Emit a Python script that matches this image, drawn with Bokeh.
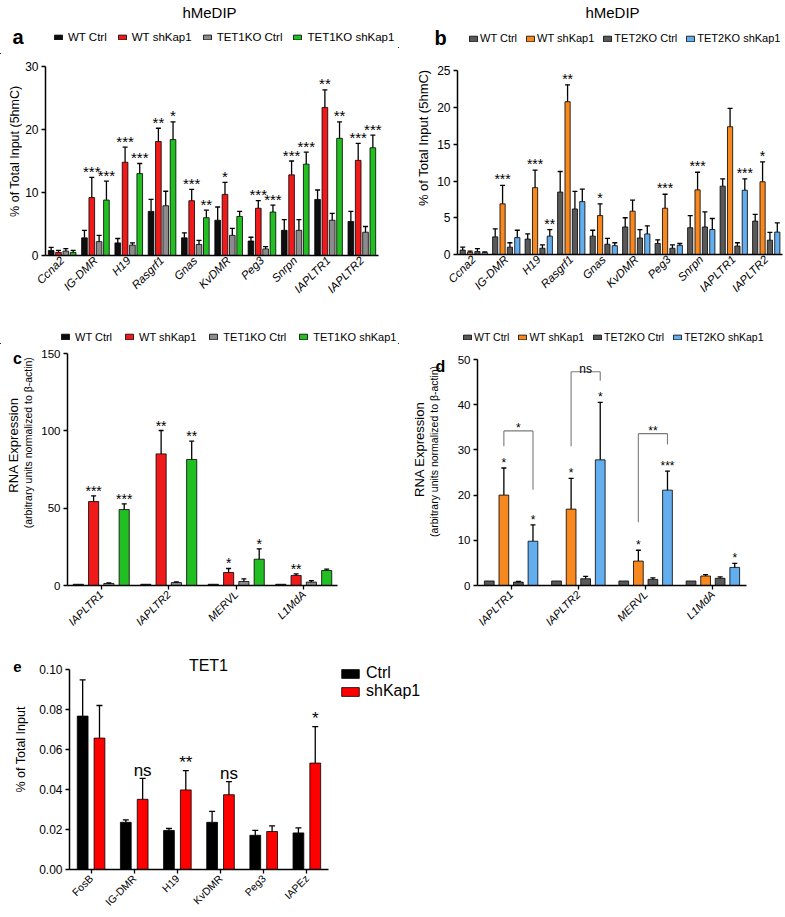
import numpy as np
from math import pi
from bokeh.plotting import figure
from bokeh.models import (Label, Legend, LegendItem, FixedTicker, Range1d,
                          NumeralTickFormatter)
from bokeh.layouts import column, row
from bokeh.embed import file_html
from bokeh.resources import INLINE
from bokeh.core.properties import value

FONT = "Liberation Sans"

# ---------------- panel a : hMeDIP, TET1KO ----------------
a_genes = ["Ccna2", "IG-DMR", "H19", "Rasgrf1", "Gnas", "KvDMR", "Peg3", "Snrpn", "IAPLTR1", "IAPLTR2"]
a_series = ["WT Ctrl", "WT shKap1", "TET1KO Ctrl", "TET1KO shKap1"]
a_wt_ctrl = [0.8, 2.8, 2.0, 7.0, 2.8, 5.6, 2.3, 4.0, 8.9, 5.4]
a_wt_ctrl_err = [0.5, 1.2, 0.7, 1.9, 0.8, 2.1, 0.6, 1.7, 1.5, 1.6]
a_wt_sh = [0.5, 9.2, 14.8, 18.1, 8.7, 9.7, 7.5, 12.8, 23.5, 15.1]
a_wt_sh_err = [0.3, 3.2, 2.4, 2.1, 1.8, 1.9, 1.2, 2.2, 2.8, 2.7]
a_ko_ctrl = [0.7, 2.2, 1.65, 7.9, 1.75, 3.2, 1.05, 4.0, 5.6, 3.7]
a_ko_ctrl_err = [0.4, 1.0, 0.35, 2.3, 0.65, 1.1, 0.35, 1.7, 1.1, 0.9]
a_ko_sh = [0.5, 8.8, 13.0, 18.4, 6.0, 6.2, 6.9, 14.5, 18.6, 17.1]
a_ko_sh_err = [0.3, 3.0, 1.6, 2.8, 1.2, 0.8, 1.1, 1.9, 2.6, 2.0]
a_sig_wt_sh = ["", "***", "***", "**", "***", "*", "***", "***", "**", "***"]
a_sig_ko_sh = ["", "***", "***", "*", "**", "", "***", "***", "**", "***"]
a_yticks = [0, 10, 20, 30]

# ---------------- panel b : hMeDIP, TET2KO ----------------
b_genes = ["Ccna2", "IG-DMR", "H19", "Rasgrf1", "Gnas", "KvDMR", "Peg3", "Snrpn", "IAPLTR1", "IAPLTR2"]
b_series = ["WT Ctrl", "WT shKap1", "TET2KO Ctrl", "TET2KO shKap1"]
b_wt_ctrl = [0.6, 2.4, 2.1, 8.5, 2.5, 3.75, 1.5, 3.65, 9.3, 4.55]
b_wt_ctrl_err = [0.4, 1.1, 0.7, 2.8, 0.8, 1.25, 0.5, 1.65, 1.0, 0.9]
b_wt_sh = [0.3, 6.9, 9.1, 20.8, 5.3, 5.9, 6.3, 8.8, 17.4, 9.9]
b_wt_sh_err = [0.15, 2.5, 2.4, 2.3, 1.6, 1.5, 1.9, 2.4, 2.5, 2.7]
b_ko_ctrl = [0.4, 1.0, 0.85, 6.2, 1.4, 2.25, 0.85, 3.75, 1.15, 1.95]
b_ko_ctrl_err = [0.4, 0.6, 0.45, 2.4, 0.8, 1.15, 0.45, 2.05, 0.45, 1.05]
b_ko_sh = [0.25, 2.3, 2.5, 7.2, 1.2, 2.8, 1.25, 3.4, 8.75, 3.05]
b_ko_sh_err = [0.1, 1.0, 0.9, 1.7, 0.4, 1.1, 0.25, 1.5, 1.55, 1.25]
b_sig_wt_sh = ["", "***", "***", "**", "*", "", "***", "***", "", "*"]
b_sig_ko_sh = ["", "", "**", "", "", "", "", "", "***", ""]
b_yticks = [0, 5, 10, 15, 20, 25]

# ---------------- panel c : RNA, TET1KO ----------------
c_genes = ["IAPLTR1", "IAPLTR2", "MERVL", "L1MdA"]
c_series = ["WT Ctrl", "WT shKap1", "TET1KO Ctrl", "TET1KO shKap1"]
c_wt_ctrl = [0.8, 0.8, 0.8, 0.8]
c_wt_ctrl_err = [0, 0, 0, 0]
c_wt_sh = [54.3, 85.1, 8.4, 6.5]
c_wt_sh_err = [3.7, 15.1, 2.6, 1.0]
c_ko_ctrl = [1.3, 1.9, 2.6, 2.2]
c_ko_ctrl_err = [0.4, 0.5, 1.7, 1.0]
c_ko_sh = [49.1, 81.5, 17.0, 9.7]
c_ko_sh_err = [3.7, 11.8, 6.7, 0.9]
c_sig_wt_sh = ["***", "**", "*", "**"]
c_sig_ko_sh = ["***", "**", "*", ""]
c_yticks = [0, 50, 100, 150]

# ---------------- panel d : RNA, TET2KO ----------------
d_genes = ["IAPLTR1", "IAPLTR2", "MERVL", "L1MdA"]
d_series = ["WT Ctrl", "WT shKap1", "TET2KO Ctrl", "TET2KO shKap1"]
d_wt_ctrl = [1.0, 1.0, 1.0, 1.0]
d_wt_ctrl_err = [0, 0, 0, 0]
d_wt_sh = [20.0, 16.9, 5.4, 2.1]
d_wt_sh_err = [6.0, 6.8, 2.4, 0.3]
d_ko_ctrl = [0.75, 1.5, 1.35, 1.6]
d_ko_ctrl_err = [0.15, 0.5, 0.35, 0.3]
d_ko_sh = [9.8, 27.8, 21.1, 4.0]
d_ko_sh_err = [3.6, 12.7, 4.2, 0.9]
d_sig_wt_sh = ["*", "*", "*", ""]
d_sig_ko_sh = ["*", "*", "***", "*"]
d_yticks = [0, 10, 20, 30, 40, 50]
d_br_cat = [0, 1, 2]
d_br_top = [34.2, 47.3, 33.6]
d_br_left_end = [30.8, 30.8, 14.0]
d_br_right_end = [21.2, 45.3, 31.2]
d_br_text = ["*", "ns", "**"]

# ---------------- panel e : TET1 ChIP ----------------
e_genes = ["FosB", "IG-DMR", "H19", "KvDMR", "Peg3", "IAPEz"]
e_series = ["Ctrl", "shKap1"]
e_ctrl = [0.0767, 0.0236, 0.0195, 0.0236, 0.0171, 0.0183]
e_ctrl_err = [0.0181, 0.0012, 0.0010, 0.0055, 0.0025, 0.0025]
e_sh = [0.0657, 0.0351, 0.0398, 0.0374, 0.0190, 0.0532]
e_sh_err = [0.0163, 0.0105, 0.0096, 0.0065, 0.0028, 0.0182]
e_sig = ["", "ns", "**", "ns", "", "*"]
e_yticks = [0.0, 0.02, 0.04, 0.06, 0.08, 0.10]

RED, GREEN, BLACK, GREY = "#F01A1A", "#22BF22", "#0E0E0E", "#8C8C8C"
DGREY, ORANGE, BLUE = "#595959", "#F7871F", "#62AEEE"


def blank(w, h):
    """Frameless canvas used for panel titles, letters, legends and y labels."""
    p = figure(width=w, height=h, output_backend="svg", toolbar_location=None,
               x_range=Range1d(0, w), y_range=Range1d(0, h),
               x_axis_location=None, y_axis_location=None, min_border=0)
    p.grid.visible = False
    p.outline_line_color = None
    return p


def txt(p, x, y, s, fs, angle=0.0, fstyle="normal"):
    p.text(x=[x], y=[y], text=[s], angle=angle, text_align="center",
           text_baseline="middle", text_font=value(FONT), text_font_size=value(fs),
           text_font_style=value(fstyle), text_color="black")


def chart(w, h, bl, br, bt, bb, xr, yr):
    p = figure(width=w, height=h, output_backend="svg", toolbar_location=None,
               x_range=Range1d(*xr), y_range=Range1d(*yr),
               min_border_left=bl, min_border_right=br, min_border_top=bt,
               min_border_bottom=bb)
    p.grid.visible = False
    p.outline_line_color = None
    return p


def style(p, labels, xfs, yticks, yfs, xticks=True, italic=True, fmt=None,
          ybounds=None, xbounds=None):
    xa = p.xaxis[0]
    ya = p.yaxis[0]
    xa.ticker = FixedTicker(ticks=list(range(len(labels))))
    xa.major_label_overrides = {i: s for i, s in enumerate(labels)}
    xa.major_label_orientation = pi / 4
    xa.major_label_text_font = FONT
    xa.major_label_text_font_size = xfs
    xa.major_label_text_font_style = "italic" if italic else "normal"
    xa.major_label_text_color = "black"
    xa.major_label_standoff = 3
    xa.axis_line_width = 1.5
    xa.axis_line_color = "black"
    xa.minor_tick_line_color = None
    xa.major_tick_in = 0
    if xticks:
        xa.major_tick_out = 4
        xa.major_tick_line_width = 1.3
        xa.major_tick_line_color = "black"
    else:
        xa.major_tick_out = 0
        xa.major_tick_line_color = None
    if xbounds:
        xa.bounds = xbounds
    ya.ticker = FixedTicker(ticks=yticks)
    if fmt:
        ya.formatter = NumeralTickFormatter(format=fmt)
    ya.major_label_text_font = FONT
    ya.major_label_text_font_size = yfs
    ya.major_label_text_color = "black"
    ya.major_label_standoff = 3
    ya.major_tick_in = 0
    ya.major_tick_out = 4
    ya.major_tick_line_width = 1.3
    ya.minor_tick_line_color = None
    ya.axis_line_width = 1.5
    ya.axis_line_color = "black"
    if ybounds:
        ya.bounds = ybounds


def bars(p, vals, errs, colors, offs, width, cap):
    rs = []
    for v, e, c, o in zip(vals, errs, colors, offs):
        v = np.asarray(v, float)
        e = np.asarray(e, float)
        x = np.arange(len(v)) + o
        r = p.vbar(x=x, top=v, bottom=0, width=width, fill_color=c,
                   line_color="black", line_width=0.8)
        m = e > 0
        p.segment(x0=x[m], y0=v[m], x1=x[m], y1=(v + e)[m],
                  line_color="black", line_width=1.3)
        p.scatter(x=x[m], y=(v + e)[m], marker="dash", size=cap,
                  line_color="black", line_width=1.3)
        rs.append(r)
    return rs


def stars(p, vals, errs, sig, off, fs, yoff):
    x = np.arange(len(vals)) + off
    y = np.asarray(vals, float) + np.asarray(errs, float)
    p.text(x=x, y=y, text=sig, text_align="center", text_baseline="alphabetic",
           y_offset=yoff, text_font=value(FONT), text_font_size=value(fs),
           text_color="black")


def legend(p, rs, labels, loc, fs, gw, gh, standoff, spacing, orientation="horizontal"):
    leg = Legend(items=[LegendItem(label=value(l), renderers=[r]) for l, r in zip(labels, rs)],
                 location=loc, orientation=orientation, label_text_font=FONT,
                 label_text_font_size=fs, label_text_color="black",
                 glyph_width=gw, glyph_height=gh,
                 label_height=gh, label_standoff=standoff, spacing=spacing,
                 padding=0, margin=0, border_line_color=None,
                 background_fill_alpha=0)
    p.add_layout(leg)


def swatches(p, colors):
    # legend-only renderers, placed off the visible canvas
    return [p.vbar(x=[-1000], top=[1], bottom=0, width=1, fill_color=c,
                   line_color="black", line_width=0.8) for c in colors]


# ================= panel a =================
a_offs = [-0.33, -0.11, 0.11, 0.33]
a_cols = [BLACK, RED, GREY, GREEN]
ha = blank(398, 54)
txt(ha, 209, 42, "hMeDIP", "15px")
txt(ha, 17.5, 18, "a", "20px", fstyle="bold")
legend(ha, swatches(ha, a_cols), a_series, (53, 11), "11.5px", 10, 6, 5, 10)
sa = blank(22, 252)
txt(sa, 14, 139, "% of Total Input (5hmC)", "12.5px", angle=pi / 2)
pa = chart(376, 252, 23, 15, 12, 51, (-0.5, len(a_genes) - 0.35), (0, 30))
style(pa, a_genes, "11.5px", a_yticks, "12px", xticks=False,
      xbounds=(-0.5, len(a_genes) - 0.5))
bars(pa, [a_wt_ctrl, a_wt_sh, a_ko_ctrl, a_ko_sh],
     [a_wt_ctrl_err, a_wt_sh_err, a_ko_ctrl_err, a_ko_sh_err], a_cols, a_offs, 0.17, 5)
stars(pa, a_wt_sh, a_wt_sh_err, a_sig_wt_sh, a_offs[1], "15px", -6)
stars(pa, a_ko_sh, a_ko_sh_err, a_sig_ko_sh, a_offs[3], "15px", -6)
panel_a = column(ha, row(sa, pa))

# ================= panel b =================
b_offs = [-0.34, -0.113, 0.113, 0.34]
b_cols = [DGREY, ORANGE, DGREY, BLUE]
hb = blank(386, 48)
txt(hb, 214, 36, "hMeDIP", "15px")
txt(hb, 42, 11, "b", "20px", fstyle="bold")
legend(hb, swatches(hb, b_cols), b_series, (70, 4), "11px", 10, 7, 2, 8)
sb = blank(36, 258)
txt(sb, 25, 149, "% of Total Input (5hmC)", "13px", angle=pi / 2)
pb = chart(350, 258, 20, 2, 4, 52, (-0.5, len(b_genes) - 0.5), (0, 27.5))
style(pb, b_genes, "11.5px", b_yticks, "12px", xticks=False, ybounds=(0, 25))
bars(pb, [b_wt_ctrl, b_wt_sh, b_ko_ctrl, b_ko_sh],
     [b_wt_ctrl_err, b_wt_sh_err, b_ko_ctrl_err, b_ko_sh_err], b_cols, b_offs, 0.16, 5)
stars(pb, b_wt_sh, b_wt_sh_err, b_sig_wt_sh, b_offs[1], "14px", -6)
stars(pb, b_ko_sh, b_ko_sh_err, b_sig_ko_sh, b_offs[3], "14px", -6)
panel_b = column(hb, row(sb, pb))

# ================= panel c =================
c_offs = [-0.34, -0.113, 0.113, 0.34]
hc = blank(398, 38)
legend(hc, swatches(hc, a_cols), c_series, (60, 1.5), "11px", 10, 7, 5, 12)
sc = blank(38, 312)
txt(sc, 17, 305, "c", "16px", fstyle="bold")
txt(sc, 12.5, 189, "RNA Expression", "13px", angle=pi / 2)
txt(sc, 27.5, 192, "(arbitrary units normalized to \u03b2-actin)", "10.5px", angle=pi / 2)
pc = chart(360, 312, 26, 61, 9, 71, (-0.5, len(c_genes) - 0.5), (0, 150))
style(pc, c_genes, "11px", c_yticks, "11.5px", xticks=True)
bars(pc, [c_wt_ctrl, c_wt_sh, c_ko_ctrl, c_ko_sh],
     [c_wt_ctrl_err, c_wt_sh_err, c_ko_ctrl_err, c_ko_sh_err], a_cols, c_offs, 0.15, 5)
stars(pc, c_wt_sh, c_wt_sh_err, c_sig_wt_sh, c_offs[1], "14px", -5)
stars(pc, c_ko_sh, c_ko_sh_err, c_sig_ko_sh, c_offs[3], "14px", -5)
panel_c = column(hc, row(sc, pc))

# ================= panel d =================
d_offs = [-0.325, -0.108, 0.108, 0.325]
hd = blank(386, 38)
legend(hd, swatches(hd, b_cols), d_series, (64, 1), "10.5px", 10, 6, 2, 8)
sd = blank(56, 312)
txt(sd, 42, 303, "d", "16px", fstyle="bold")
txt(sd, 21, 188, "RNA Expression", "13px", angle=pi / 2)
txt(sd, 35.5, 185, "(arbitrary units normalized to \u03b2-actin)", "10.5px", angle=pi / 2)
pd_ = chart(330, 312, 20, 38, 15, 71, (-0.5, len(d_genes) - 0.5), (0, 50))
style(pd_, d_genes, "11px", d_yticks, "11.5px", xticks=True)
bars(pd_, [d_wt_ctrl, d_wt_sh, d_ko_ctrl, d_ko_sh],
     [d_wt_ctrl_err, d_wt_sh_err, d_ko_ctrl_err, d_ko_sh_err], b_cols, d_offs, 0.145, 5)
stars(pd_, d_wt_sh, d_wt_sh_err, d_sig_wt_sh, d_offs[1], "12px", -5)
stars(pd_, d_ko_sh, d_ko_sh_err, d_sig_ko_sh, d_offs[3], "12px", -5)
xl = np.asarray(d_br_cat, float) + d_offs[1]
xr = np.asarray(d_br_cat, float) + d_offs[3]
top = np.asarray(d_br_top, float)
pd_.segment(x0=np.concatenate([xl, xl, xr]),
            y0=np.concatenate([np.asarray(d_br_left_end, float), top, top]),
            x1=np.concatenate([xl, xr, xr]),
            y1=np.concatenate([top, top, np.asarray(d_br_right_end, float)]),
            line_color="#7a7a7a", line_width=1.1)
pd_.text(x=(xl + xr) / 2, y=top, text=d_br_text, text_align="center",
         text_baseline="alphabetic", y_offset=-3, text_font=value(FONT),
         text_font_size=value("12px"), text_color="black")
panel_d = column(hd, row(sd, pd_))

# ================= panel e =================
e_offs = [-0.195, 0.195]
se = blank(36, 259)
txt(se, 17, 246, "e", "15px", fstyle="bold")
txt(se, 20, 146, "% of Total Input", "12.5px", angle=pi / 2)
pe = chart(394, 259, 30, 5, 0, 46, (-0.5, 7.75), (0, 0.1065))
style(pe, e_genes, "10.5px", e_yticks, "12px", xticks=True, italic=False, fmt="0.00",
      ybounds=(0, 0.10), xbounds=(-0.5, len(e_genes) - 0.5))
re_ = bars(pe, [e_ctrl, e_sh], [e_ctrl_err, e_sh_err], ["#000000", "#FF0000"],
           e_offs, 0.25, 6)
stars(pe, e_sh, e_sh_err, e_sig, e_offs[1], "17px", -8)
pe.add_layout(Label(x=2.72, y=0.102, text="TET1", text_align="center",
                    text_baseline="middle", text_font=FONT, text_font_size="16px",
                    text_color="black"))
legend(pe, re_, e_series, (270, 169), "16px", 22, 11, 5, 0, orientation="vertical")
panel_e = row(se, pe)

layout = column(row(panel_a, panel_b), row(panel_c, panel_d), panel_e)
open("out.html", "w").write(file_html(layout, INLINE))
